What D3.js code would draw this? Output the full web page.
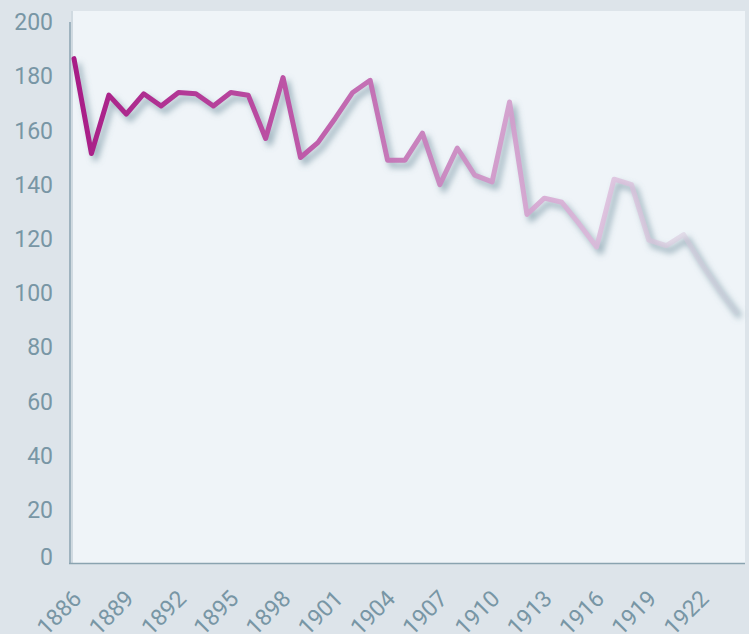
<!DOCTYPE html>
<html>
<head>
<meta charset="utf-8">
<script src="https://cdn.jsdelivr.net/npm/d3@7"></script>
<style>
  html, body { margin: 0; padding: 0; background: #dde4ea; }
  svg { display: block; }
  text { font-family: Roboto, "DejaVu Sans", sans-serif; fill: #7896a5; }
</style>
</head>
<body>
<svg class="chart"></svg>
<script>
"use strict";
var width = 749;
var height = 634;

// data
var years = [1886, 1887, 1888, 1889, 1890, 1891, 1892, 1893, 1894, 1895,
             1896, 1897, 1898, 1899, 1900, 1901, 1902, 1903, 1904, 1905,
             1906, 1907, 1908, 1909, 1910, 1911, 1912, 1913, 1914, 1915,
             1916, 1917, 1918, 1919, 1920, 1921, 1922, 1923, 1924];
var values = [186.5, 151.5, 173, 166, 173.5, 169, 174, 173.5, 169, 174,
              173, 157, 179.5, 150, 155.5, 164.5, 174, 178.5, 149, 149,
              159, 140, 153.5, 143.5, 141, 170.5, 129, 135, 133.5, 125.5,
              117, 142, 140, 119.5, 117.5, 121.5, 111, 101.5, 93];
var yTicks = [0, 20, 40, 60, 80, 100, 120, 140, 160, 180, 200];
var xTicks = [1886, 1889, 1892, 1895, 1898, 1901, 1904, 1907, 1910, 1913, 1916, 1919, 1922];

var svg = d3.select(".chart")
	.attr("width", width)
	.attr("height", height);

var x = d3.scaleLinear().domain([1886, 1924]).range([74, 736]);
var y = d3.scaleLinear().domain([0, 200]).range([564, 22]);

var defs = svg.append("defs");

// line colour fades from deep magenta to pale lilac
var grad = defs.append("linearGradient")
	.attr("id", "lineGrad")
	.attr("gradientUnits", "userSpaceOnUse")
	.attr("x1", x(1886)).attr("x2", x(1924))
	.attr("y1", 0).attr("y2", 0);
var stops = [
	[0, "#a81c86", 1],
	[0.3, "#bb4fa3", 1],
	[0.55, "#c985bf", 0.95],
	[0.78, "#ddb6da", 0.85],
	[0.9, "#d9c6dc", 0.6],
	[1, "#d2d0de", 0.3]
];
grad.selectAll("stop")
	.data(stops)
	.enter().append("stop")
	.attr("offset", function(d) { return d[0]; })
	.attr("stop-color", function(d) { return d[1]; })
	.attr("stop-opacity", function(d) { return d[2]; });

defs.append("filter")
	.attr("id", "blur")
	.attr("x", "-10%").attr("y", "-10%")
	.attr("width", "120%").attr("height", "120%")
	.append("feGaussianBlur")
	.attr("stdDeviation", 3);

// plot background
svg.append("rect")
	.attr("x", 72)
	.attr("y", 11)
	.attr("width", 745 - 72)
	.attr("height", 563 - 11)
	.attr("fill", "#eff4f8");
svg.append("rect")
	.attr("x", 71)
	.attr("y", 11)
	.attr("width", 2)
	.attr("height", 552)
	.attr("fill", "#d0dae1");

// axes lines
svg.append("line")
	.attr("x1", 70).attr("x2", 70)
	.attr("y1", y(200)).attr("y2", y(0))
	.attr("stroke", "#8aa3b0")
	.attr("stroke-width", 1.5);
svg.append("line")
	.attr("x1", 69).attr("x2", 745)
	.attr("y1", 563.5).attr("y2", 563.5)
	.attr("stroke", "#8aa3b0")
	.attr("stroke-width", 1.5);

// y labels
svg.append("g")
	.selectAll("text")
	.data(yTicks)
	.enter().append("text")
	.attr("x", 53)
	.attr("y", function(d) { return d === 0 ? y(d) - 7 : y(d); })
	.attr("dy", "0.36em")
	.attr("text-anchor", "end")
	.style("font-size", "23px")
	.text(function(d) { return d; });

// x labels, rotated
svg.append("g")
	.selectAll("text")
	.data(xTicks)
	.enter().append("text")
	.attr("transform", function(d) { return "translate(" + (x(d) + 9) + ",600) rotate(-45)"; })
	.attr("text-anchor", "end")
	.style("font-size", "23px")
	.text(function(d) { return d; });

var line = d3.line()
	.x(function(d, i) { return x(years[i]); })
	.y(function(d) { return y(d); });

// soft shadow under the line
svg.append("path")
	.datum(values)
	.attr("d", line)
	.attr("transform", "translate(4,5)")
	.attr("fill", "none")
	.attr("stroke", "#6a8a9a")
	.attr("stroke-opacity", 0.6)
	.attr("stroke-width", 5.5)
	.attr("stroke-linejoin", "round")
	.attr("filter", "url(#blur)");

svg.append("path")
	.datum(values)
	.attr("d", line)
	.attr("fill", "none")
	.attr("stroke", "url(#lineGrad)")
	.attr("stroke-width", 5)
	.attr("stroke-linejoin", "round")
	.attr("stroke-linecap", "round");
</script>
</body>
</html>
